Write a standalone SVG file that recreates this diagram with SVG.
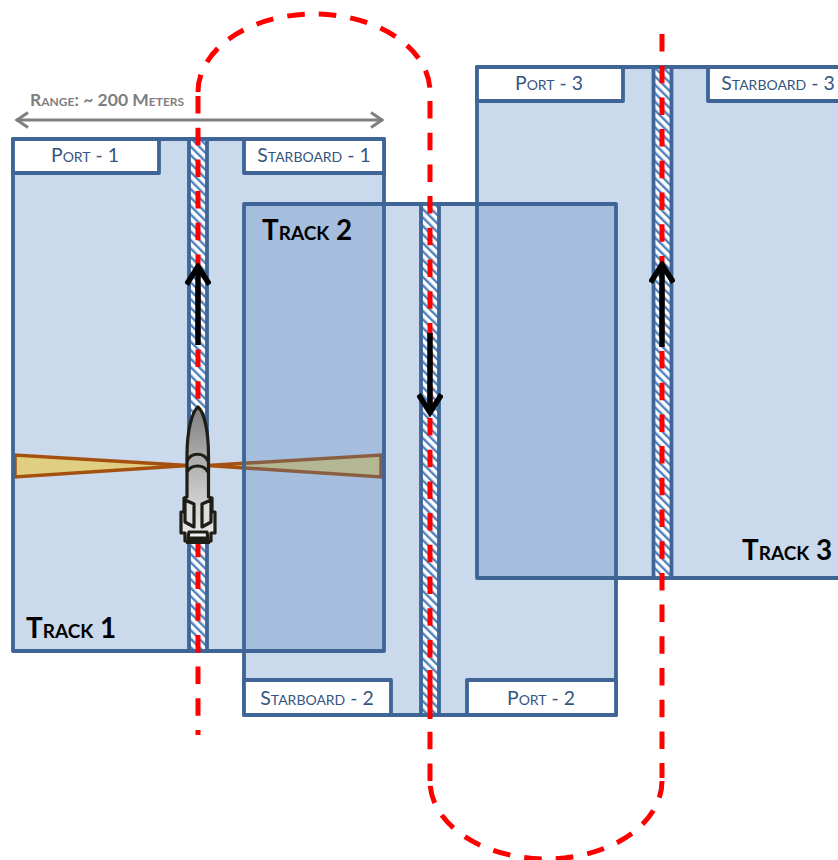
<svg xmlns="http://www.w3.org/2000/svg" width="838" height="860" viewBox="0 0 838 860">
<style>
.track{fill:#4F81BD;fill-opacity:.3}
.edge{fill:none;stroke:#3E6595;stroke-width:3.800;stroke-linejoin:round}
.tag{fill:#fff;stroke:#3E6595;stroke-width:3.800;stroke-linejoin:round}
.strip{fill:url(#hatch);stroke:#3E6595;stroke-width:3.800}
.lbl{font-family:Lato,"Open Sans",sans-serif;font-size:19.4px;fill:#34557F;text-anchor:middle;font-variant:small-caps}
.big{font-family:Lato,"Open Sans",sans-serif;font-size:27.8px;font-weight:700;fill:#000;font-variant:small-caps}
.wedge{fill:#E0CE82;stroke:#A5500F;stroke-width:3.500;stroke-linejoin:miter}
.path{fill:none;stroke:#FF0000;stroke-width:5;stroke-dasharray:17.5 14.2}
.go{fill:none;stroke:#000;stroke-width:5.500}
.rk{stroke:#1F1E16;stroke-width:3.200;stroke-linejoin:round}
</style>
<defs>
<pattern id="hatch" width="6" height="6" patternUnits="userSpaceOnUse" patternTransform="rotate(-45)">
<rect width="6" height="6" fill="#fff"/>
<rect width="2.400" height="6" fill="#4F81BD"/>
</pattern>
<linearGradient id="metal" x1="0" y1="0" x2="0" y2="1">
<stop offset="0" stop-color="#808080"/>
<stop offset=".7" stop-color="#D0D0D0"/>
<stop offset="1" stop-color="#EDEDED"/>
</linearGradient>
<marker id="head" viewBox="0 0 26 26" refX="22.500" refY="13" markerWidth="26" markerHeight="26" markerUnits="userSpaceOnUse" orient="auto">
<path d="M4 1.500L22 13L4 24.500" fill="none" stroke="#000" stroke-width="5.500" stroke-linejoin="miter"/>
</marker>
<marker id="rangeHead" viewBox="0 0 16 18" refX="14" refY="9" markerWidth="16" markerHeight="18" markerUnits="userSpaceOnUse" orient="auto-start-reverse">
<path d="M2 1.500L13 9L2 16.500" fill="none" stroke="#808080" stroke-width="3"/>
</marker>
</defs>

<g id="track-1">
<rect class="track" x="13" y="139" width="371" height="512"/>
<polygon class="wedge" points="15,455 15,477 188,465.500"/>
<polygon class="wedge" points="381,455 381,477 208,465.500"/>
</g>
<g id="track-2"><rect class="track" x="244" y="204" width="372" height="511"/></g>
<g id="track-3"><rect class="track" x="477" y="67" width="363" height="511"/></g>

<g id="track-1-outline">
<rect class="edge" x="13" y="139" width="371" height="512"/>
<rect class="strip" x="189" y="139" width="18" height="512"/>
<rect class="tag" x="13" y="139" width="146" height="34"/>
<rect class="tag" x="244" y="139" width="140" height="34"/>
<text class="lbl" x="85" y="162">Port - 1</text>
<text class="lbl" x="314" y="162">Starboard - 1</text>
<text class="big" x="26" y="638">Track 1</text>
</g>
<g id="track-2-outline">
<rect class="edge" x="244" y="204" width="372" height="511"/>
<rect class="strip" x="421" y="204" width="18" height="511"/>
<rect class="tag" x="244" y="680" width="147" height="35"/>
<rect class="tag" x="467" y="680" width="149" height="35"/>
<text class="lbl" x="317" y="705">Starboard - 2</text>
<text class="lbl" x="541" y="705">Port - 2</text>
<text class="big" x="262" y="240">Track 2</text>
</g>
<g id="track-3-outline">
<rect class="edge" x="477" y="67" width="363" height="511"/>
<rect class="strip" x="653.500" y="67" width="18" height="511"/>
<rect class="tag" x="477" y="67" width="146" height="34"/>
<rect class="tag" x="708" y="67" width="132" height="34"/>
<text class="lbl" x="549" y="90">Port - 3</text>
<text class="lbl" x="778" y="90">Starboard - 3</text>
<text class="big" x="742" y="560">Track 3</text>
</g>

<g id="connectors">
<path class="path" stroke-dashoffset="12.500" d="M198 735V92"/>
<path class="path" d="M198 92A116 78 0 0 1 430 92"/>
<path class="path" stroke-dashoffset="22.700" d="M430 92V670"/>
<path d="M430 670V719" fill="none" stroke="#FF0000" stroke-width="5"/>
<path class="path" d="M430 781V719"/>
<path class="path" stroke-dashoffset="26.700" d="M430 781A116 78 0 0 0 662 781"/>
<path class="path" d="M662 34V778"/>
<path class="go" d="M198 345V266" marker-end="url(#head)"/>
<path class="go" d="M430 333V413" marker-end="url(#head)"/>
<path class="go" d="M662 347V264" marker-end="url(#head)"/>
<path d="M16 120H383" fill="none" stroke="#808080" stroke-width="3" marker-start="url(#rangeHead)" marker-end="url(#rangeHead)"/>
</g>

<g id="range-label">
<text x="30" y="106" font-family="Lato,'Open Sans',sans-serif" font-size="17.500px" font-weight="700" fill="#7F7F7F" style="font-variant:small-caps">Range: ~ 200 Meters</text>
</g>

<g id="rocket">
<path class="rk" fill="url(#metal)" d="M198 407C204 412 208.500 430 208.500 456V497L212 498V512H215V533H211V541Q198 544 185 541V533H181V512H184V498L187 497V456C187 430 192 412 198 407Z"/>
<path class="rk" fill="#DEDEDE" d="M185 500L194 504V527L185 522ZM211 500L202 504V527L211 522Z"/>
<path class="rk" fill="#F2F2F2" d="M189 532H207L208 538H188Z"/>
<path fill="#1F1E16" d="M187 538H209L210 544H186Z"/>
<path class="rk" fill="none" d="M187 461C191 452 204 452 208 461M187 472C191 464 204 464 208 472"/>
</g>
</svg>
